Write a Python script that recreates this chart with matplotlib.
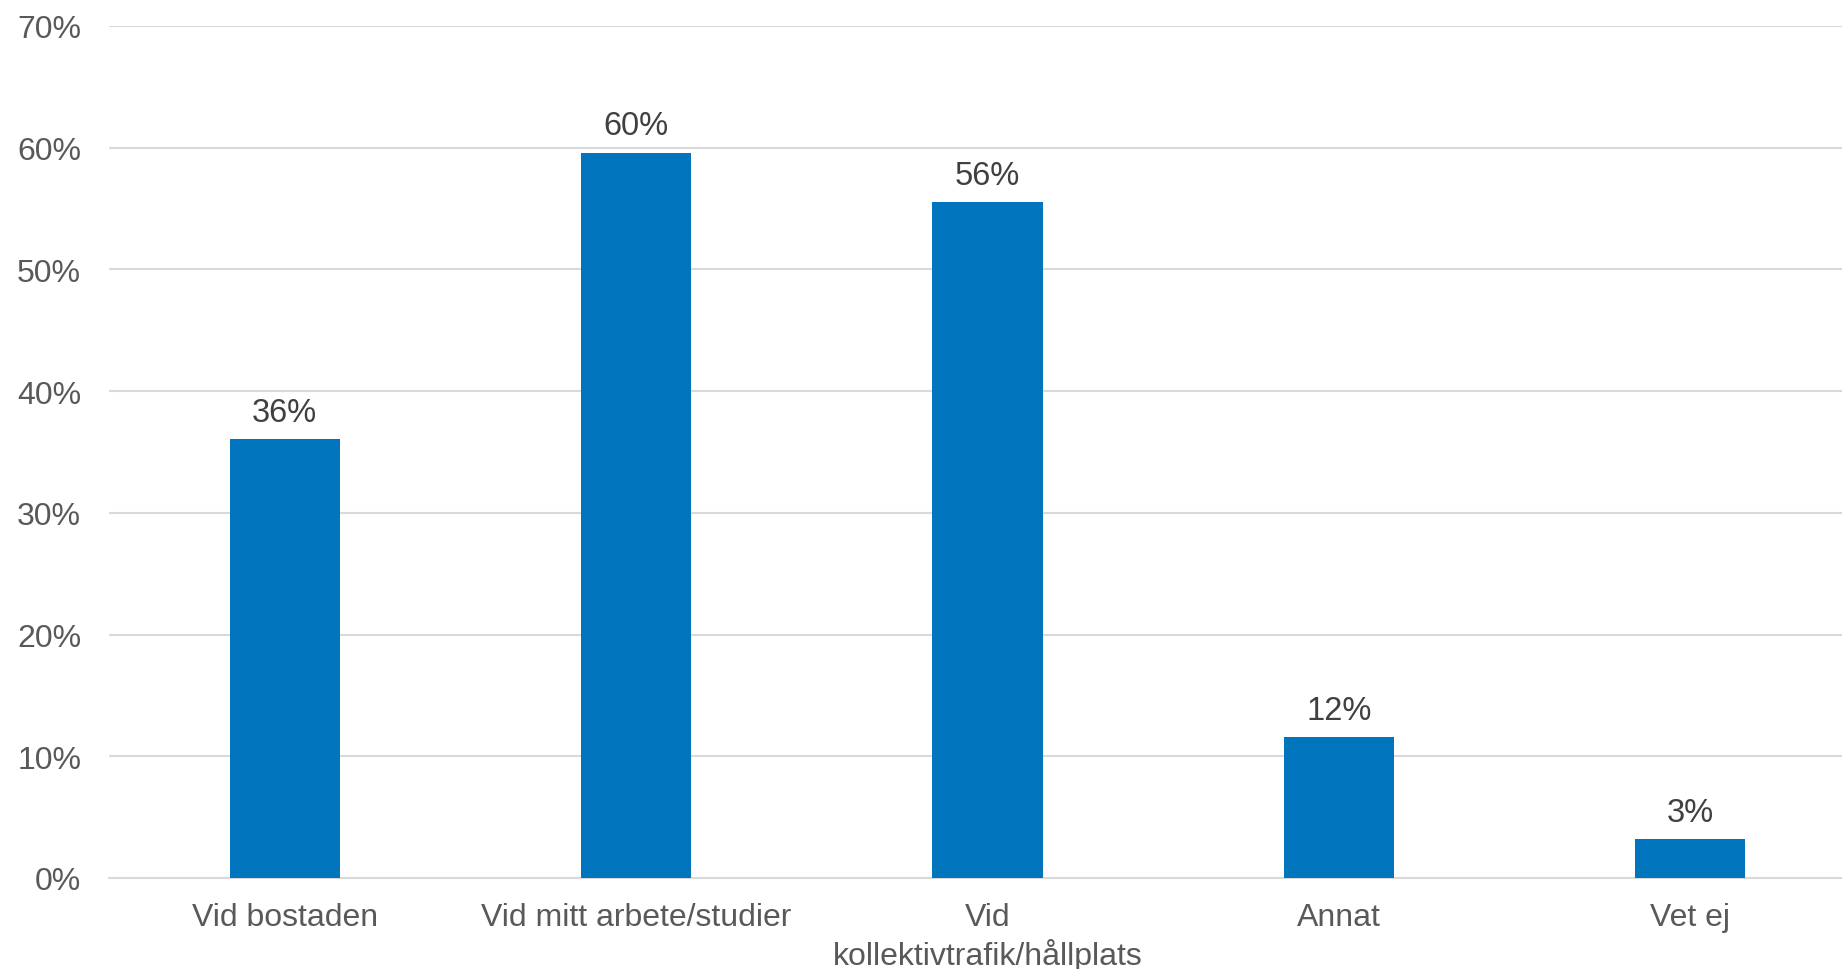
import matplotlib
matplotlib.use("Agg")
import matplotlib.pyplot as plt
from matplotlib.ticker import PercentFormatter

plt.rcParams['font.family'] = ['Liberation Sans', 'DejaVu Sans']

# Andel svar per plats
kategorier = ['Vid bostaden', 'Vid mitt arbete/studier', 'Vid\nkollektivtrafik/hållplats', 'Annat', 'Vet ej']
andelar = [0.361, 0.596, 0.555, 0.116, 0.032]
yticks = [0, 0.1, 0.2, 0.3, 0.4, 0.5, 0.6, 0.7]

W, H = 1842, 970
fig = plt.figure(figsize=(W / 100, H / 100), dpi=100)
ax = fig.add_axes([109 / W, 91 / H, (1866 - 109) / W, (879 - 27) / H])

x = range(len(kategorier))
bars = ax.bar(x, andelar, width=0.314, color='#0075BD', zorder=3)

for rect, v in zip(bars, andelar):
    ax.annotate(f'{v:.0%}', (rect.get_x() + rect.get_width() / 2, v),
                xytext=(0, 8), textcoords='offset points',
                ha='center', va='bottom', fontsize=23.5, color='#404040')

ax.set_xlim(-0.5, 4.5)
ax.set_ylim(0, 0.7)
ax.set_yticks(yticks)
ax.yaxis.set_major_formatter(PercentFormatter(1.0, decimals=0))
ax.set_xticks(list(x))
ax.set_xticklabels(kategorier, linespacing=1.25)

ax.grid(axis='y', color='#d9d9d9', linewidth=1.5, zorder=0)
for s in ['top', 'right', 'left']:
    ax.spines[s].set_visible(False)
ax.spines['bottom'].set_color('#d9d9d9')
ax.spines['bottom'].set_linewidth(1.5)

ax.tick_params(axis='y', length=0, pad=20, labelsize=23, labelcolor='#595959')
ax.tick_params(axis='x', length=0, pad=17, labelsize=23, labelcolor='#595959')

fig.savefig('out.png', dpi=100)
